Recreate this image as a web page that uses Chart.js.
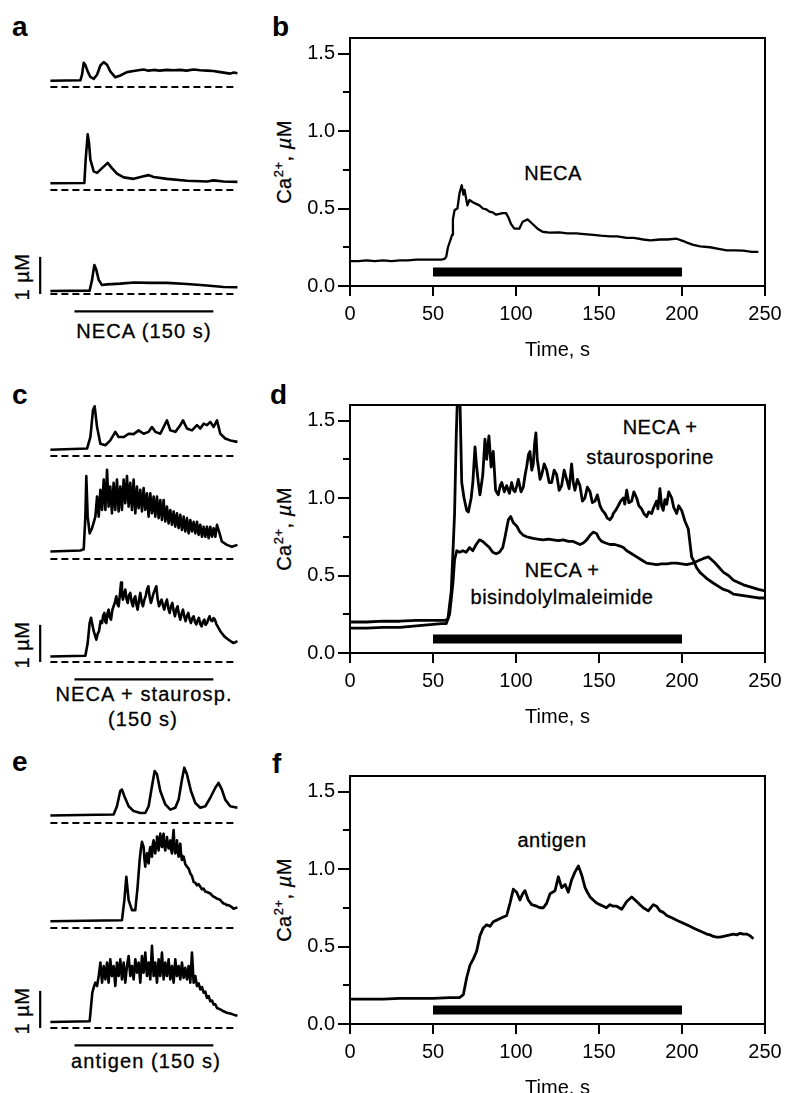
<!DOCTYPE html>
<html>
<head>
<meta charset="utf-8">
<script src="https://cdn.jsdelivr.net/npm/chart.js@4.4.1/dist/chart.umd.min.js"></script>
<style>
html, body { margin: 0; padding: 0; background: #fff; width: 805px; height: 1093px; overflow: hidden; position: relative; }
canvas { position: absolute; }
.t { position: absolute; font-family: "Liberation Sans", Arial, sans-serif; font-size: 20px; letter-spacing: 0.5px; color: #000; white-space: nowrap; line-height: 1; transform: translate(-50%, -50%); -webkit-text-stroke: 0.3px #000; }
.w { letter-spacing: 1.1px; }
.rot { transform: translate(-50%, -50%) rotate(-90deg); }
.p { position: absolute; font-family: "Liberation Sans", Arial, sans-serif; font-weight: bold; font-size: 28px; line-height: 1; }
sup { font-size: 13px; line-height: 0; vertical-align: 8px; }
</style>
</head>
<body>

<div class="p" style="left:12px;top:13px">a</div>
<div class="p" style="left:272px;top:13px">b</div>
<div class="p" style="left:12px;top:381px">c</div>
<div class="p" style="left:270px;top:381px">d</div>
<div class="p" style="left:12px;top:748px">e</div>
<div class="p" style="left:272px;top:750px">f</div>

<div class="t w" style="left:144px;top:331px">NECA (150 s)</div>
<div class="t w" style="left:144px;top:694px">NECA + staurosp.</div>
<div class="t w" style="left:143px;top:719px">(150 s)</div>
<div class="t w" style="left:146px;top:1061px">antigen (150 s)</div>

<div class="t rot" style="left:22px;top:277px">1 µM</div>
<div class="t rot" style="left:22px;top:645px">1 µM</div>
<div class="t rot" style="left:22px;top:1011px">1 µM</div>

<div class="t rot" style="left:284px;top:162px">Ca<sup>2+</sup>, <i>µ</i>M</div>
<div class="t rot" style="left:284px;top:529px">Ca<sup>2+</sup>, <i>µ</i>M</div>
<div class="t rot" style="left:284px;top:900px">Ca<sup>2+</sup>, <i>µ</i>M</div>

<div class="t" style="left:553px;top:173px">NECA</div>
<div class="t" style="left:660px;top:427px">NECA +</div>
<div class="t" style="left:650px;top:457px">staurosporine</div>
<div class="t" style="left:562px;top:570px">NECA +</div>
<div class="t" style="left:562px;top:597px">bisindolylmaleimide</div>
<div class="t" style="left:552px;top:840px">antigen</div>

<script>
// axes
const timeTicks = [0, 50, 100, 150, 200, 250];
const caTicks = [0, 0.5, 1.0, 1.5];
const caMinor = [0.25, 0.75, 1.25];
const stimulus = [50, 200];      // drug / antigen application, s
const stimLeft = [26, 176];      // same 150 s bar under the single-cell traces
const traceSpan = [0, 202];      // zero line under each single-cell trace
const scaleBar = [0, 1];         // 1 uM

// b: NECA, mean Ca2+ (uM) vs time (s)
const necaB = [[0,0.16],[5,0.16],[10,0.165],[15,0.16],[20,0.165],[25,0.16],[30,0.165],[35,0.165],[40,0.17],[45,0.17],[50,0.17],[55,0.17],[57,0.175],[58,0.19],[59,0.25],[60.6,0.30],[61.5,0.33],[62,0.43],[63,0.49],[64.7,0.50],[66,0.60],[67.3,0.65],[68.3,0.59],[69,0.62],[70.7,0.52],[72,0.555],[74,0.54],[76,0.53],[78,0.52],[80,0.50],[82,0.495],[84,0.48],[86,0.475],[88,0.46],[90,0.465],[92,0.47],[94,0.47],[95.5,0.44],[97,0.40],[99,0.37],[102,0.37],[104,0.415],[107,0.43],[110,0.40],[113,0.37],[116,0.35],[120,0.345],[126,0.346],[131,0.34],[136.5,0.34],[141,0.335],[146.6,0.33],[151,0.325],[156.6,0.32],[161,0.32],[166.7,0.31],[171,0.31],[176.7,0.30],[181,0.295],[186.7,0.30],[191,0.30],[196.8,0.305],[200.8,0.29],[203,0.28],[206.8,0.265],[211,0.255],[216.9,0.25],[222,0.24],[227,0.23],[232,0.23],[237,0.228],[242,0.22],[246,0.22]];

// d: NECA + staurosporine / NECA + bisindolylmaleimide
const stauroD = [[0,0.20],[10,0.20],[20,0.205],[30,0.205],[40,0.21],[50,0.21],[55,0.21],[57,0.21],[59,0.22],[61,0.40],[63,0.90],[64,1.40],[65,1.75],[66,1.75],[67.3,1.10],[68.7,1.00],[70.3,0.92],[71.3,0.91],[73,1.00],[74,1.10],[75.3,1.33],[76.3,1.20],[77.3,1.10],[78.3,1.02],[80,1.15],[81.3,1.38],[82.3,1.25],[83.7,1.40],[85,1.20],[86.3,1.30],[87.7,1.05],[89.3,1.02],[90.5,1.08],[91.4,1.10],[93,1.04],[94.4,1.08],[96,1.03],[97.4,1.10],[98.5,1.05],[99.4,1.04],[100.5,1.08],[101.4,1.12],[103,1.04],[104.4,1.07],[105.5,1.15],[106.4,1.20],[107.5,1.28],[108.4,1.30],[109.5,1.18],[110.4,1.22],[111.2,1.35],[112,1.42],[112.8,1.25],[113.5,1.20],[114.5,1.12],[115.5,1.15],[117,1.22],[118.5,1.18],[120,1.10],[121.5,1.10],[123,1.18],[124.5,1.15],[126,1.05],[127.5,1.08],[129,1.18],[130.5,1.12],[132,1.06],[133.5,1.22],[134.5,1.10],[135.5,1.05],[137,1.12],[138.5,1.08],[140,0.98],[141.5,1.00],[143,1.07],[144.6,1.04],[146,0.97],[147.6,0.98],[149,1.02],[150.6,0.95],[152,0.92],[153.6,0.90],[155,0.87],[156.6,0.86],[158,0.88],[158.6,0.90],[160,0.92],[161.6,0.95],[163,0.98],[164.7,1.00],[165.5,0.96],[166.7,1.05],[168,0.97],[169.7,0.98],[171,1.04],[172.7,1.00],[174,0.95],[175.7,0.93],[177,0.90],[178.7,0.88],[180,0.91],[181.7,0.90],[183,0.94],[184.7,0.98],[185.5,0.93],[186.7,1.06],[187.7,0.95],[188.7,0.92],[189.7,0.99],[190.8,0.96],[192,1.04],[193.8,1.00],[195,0.94],[196.8,0.90],[198,0.95],[199.8,0.92],[201.8,0.85],[203.8,0.80],[205.8,0.62],[206.8,0.60],[208.8,0.55],[210.8,0.52],[212.9,0.50],[215,0.48],[219,0.45],[222,0.43],[225,0.41],[228,0.40],[231,0.38],[234,0.375],[237,0.37],[240,0.365],[243,0.36],[246,0.355],[250,0.355]];
const bisD = [[0,0.16],[10,0.16],[20,0.165],[30,0.165],[40,0.175],[45,0.18],[50,0.185],[55,0.19],[58,0.19],[60,0.25],[62,0.45],[63,0.60],[64.3,0.66],[66,0.65],[68,0.66],[70,0.65],[72,0.68],[74,0.66],[76,0.70],[78,0.73],[80,0.72],[82,0.70],[84,0.68],[86,0.65],[88,0.64],[90,0.65],[92,0.68],[93.4,0.75],[95.4,0.86],[96.8,0.88],[98.4,0.84],[100.4,0.82],[102.4,0.78],[104.4,0.76],[106.4,0.75],[108.4,0.745],[110.4,0.74],[113,0.735],[116.5,0.73],[119.5,0.735],[122.5,0.73],[125.5,0.725],[128.5,0.73],[131.5,0.72],[134.5,0.72],[136.5,0.71],[138.5,0.70],[140.5,0.71],[142.6,0.73],[144.6,0.76],[146.6,0.78],[148.6,0.77],[150,0.74],[151.6,0.72],[154,0.71],[156.6,0.70],[159.5,0.70],[162.7,0.69],[164.7,0.68],[166.7,0.66],[169.7,0.64],[172.7,0.62],[175.7,0.60],[178.7,0.58],[181.7,0.575],[184.7,0.57],[187.7,0.575],[190.8,0.575],[193.8,0.58],[196.8,0.58],[199.8,0.575],[202.8,0.57],[206.8,0.58],[210.8,0.60],[213,0.61],[215.9,0.62],[218,0.60],[220,0.58],[222.5,0.55],[225,0.52],[228,0.50],[231,0.47],[234,0.455],[237,0.44],[240,0.43],[243,0.42],[246,0.41],[250,0.40]];

// f: antigen
const antigenF = [[0,0.16],[10,0.16],[20,0.16],[30,0.165],[40,0.165],[50,0.165],[60,0.17],[66,0.17],[68.3,0.19],[70.3,0.30],[72.3,0.38],[74.3,0.42],[76.3,0.47],[78.3,0.57],[80.3,0.62],[82.3,0.64],[84.3,0.63],[86.3,0.66],[88.4,0.67],[90.4,0.68],[92.4,0.69],[94.4,0.70],[96.4,0.78],[98.4,0.87],[100.4,0.85],[102.4,0.80],[104,0.84],[105.4,0.86],[107.4,0.80],[109.4,0.77],[112.4,0.76],[114.5,0.75],[116.5,0.75],[118.5,0.78],[120.5,0.84],[122,0.85],[123.5,0.86],[125.5,0.95],[127.5,0.88],[129.6,0.90],[131.5,0.85],[133.5,0.93],[135.5,0.98],[137.6,1.02],[139.6,0.96],[141.6,0.88],[143,0.85],[144.6,0.82],[146.5,0.80],[148.6,0.78],[150.5,0.77],[152.6,0.76],[154.5,0.75],[156.6,0.77],[158.5,0.76],[160.6,0.76],[163.7,0.74],[166.7,0.79],[169.7,0.82],[172.7,0.79],[174.7,0.77],[176.7,0.75],[179.7,0.73],[182.7,0.77],[184.7,0.76],[186.7,0.73],[188.8,0.72],[190.8,0.70],[192.8,0.69],[194.8,0.68],[196.8,0.67],[198.8,0.66],[200.8,0.65],[202.8,0.64],[204.8,0.63],[206.8,0.62],[208.8,0.61],[210.8,0.60],[212.9,0.59],[214.9,0.58],[216.9,0.575],[218.9,0.565],[220.9,0.56],[222.9,0.56],[225,0.565],[227,0.57],[229,0.575],[231,0.58],[233,0.575],[235,0.585],[237,0.58],[239,0.58],[241,0.57],[243,0.55]];

// a: single cells, NECA
const necaA1 = [[0,0.17],[32.4,0.18],[34.2,0.33],[36,0.65],[37.8,0.59],[40.3,0.42],[43.2,0.27],[46.8,0.22],[50.4,0.33],[54,0.58],[57.6,0.67],[61.2,0.60],[64.7,0.42],[70.1,0.26],[75.5,0.31],[82.7,0.40],[89.9,0.43],[95,0.45],[100.7,0.47],[106,0.44],[111.5,0.46],[118,0.44],[126,0.46],[133,0.45],[140,0.46],[147,0.44],[154.7,0.47],[162,0.45],[169,0.44],[176,0.43],[183.5,0.40],[189,0.38],[194,0.36],[198,0.39],[202,0.37]];
const necaA2 = [[0,0.18],[36.7,0.19],[38.1,0.82],[40.3,1.50],[41.7,1.27],[43.2,0.82],[46.8,0.50],[50.4,0.46],[55.8,0.59],[61.9,0.73],[66.5,0.59],[71.9,0.44],[79.1,0.34],[89.9,0.30],[100.7,0.37],[106.1,0.40],[111.5,0.35],[125.9,0.30],[147.5,0.25],[169.1,0.23],[176.3,0.26],[187,0.23],[202,0.22]];
const necaA3 = [[0,0.08],[42.4,0.09],[45,0.38],[47.5,0.78],[49.6,0.65],[52.2,0.38],[55.8,0.24],[61.2,0.26],[75.5,0.28],[89.9,0.31],[107.9,0.30],[125.9,0.30],[147.5,0.27],[169.1,0.23],[187,0.19],[202,0.18]];

// c: single cells, NECA + staurosporine
const stauroC1 = [[0,0.17],[39.6,0.20],[43.2,0.51],[46,1.23],[47.8,1.34],[50.4,0.78],[54,0.33],[59.4,0.29],[64.7,0.42],[70.1,0.65],[73.7,0.51],[79.1,0.51],[84.5,0.60],[89.9,0.59],[95.3,0.69],[100.7,0.60],[106.1,0.65],[109.7,0.78],[113.3,0.65],[118.7,0.60],[122.3,0.78],[125.9,0.96],[129.5,0.69],[134.9,0.65],[140.3,0.83],[143.2,0.96],[147.5,0.74],[152.9,0.69],[158.3,0.83],[161.9,0.74],[165.5,0.87],[169.1,0.83],[172.7,0.92],[176.3,0.78],[179.9,0.96],[183.5,0.60],[188.8,0.47],[194.2,0.42],[202,0.38]];
const stauroC2 = [[0,0.20],[32.4,0.23],[36,0.26],[37.8,1.14],[38.8,2.23],[40.3,1.14],[42.4,0.69],[45,0.83],[48.6,1.14],[50.4,1.68],[52.2,1.14],[54,1.86],[55.8,1.32],[57.6,2.14],[59.4,1.32],[61.2,2.40],[62.9,1.41],[64.7,1.95],[66.5,1.23],[68.3,2.05],[70.1,1.32],[71.9,2.14],[73.7,1.28],[75.5,1.95],[77.3,1.32],[79.1,2.14],[80.9,1.50],[82.7,2.23],[84.5,1.41],[86.3,2.05],[88.1,1.32],[89.9,2.14],[91.7,1.23],[93.5,1.95],[95.3,1.37],[97.1,1.86],[98.9,1.28],[100.7,1.91],[102.5,1.32],[104.3,1.77],[106.1,1.14],[107.9,1.77],[109.7,1.23],[111.5,1.68],[113.3,1.14],[115.1,1.68],[116.9,1.10],[118.7,1.59],[120.5,1.05],[122.3,1.59],[124.1,1.01],[125.9,1.41],[127.7,0.96],[129.5,1.32],[131.3,0.92],[133.1,1.28],[134.9,0.87],[136.7,1.23],[138.5,0.83],[140.3,1.19],[142.1,0.78],[143.9,1.14],[145.7,0.74],[147.5,1.10],[149.3,0.69],[151.1,1.05],[152.9,0.74],[154.7,1.00],[156.5,0.69],[158.3,1.00],[160.1,0.65],[161.9,0.92],[163.7,0.60],[165.5,0.87],[167.3,0.60],[169.1,0.87],[170.9,0.56],[172.7,0.87],[174.5,0.60],[176.3,0.83],[178.1,0.60],[179.9,0.92],[182.7,0.69],[185.2,0.47],[190.6,0.38],[196,0.33],[202,0.38]];
const stauroC3 = [[0,0.15],[37.8,0.17],[40.3,0.51],[42.4,1.05],[43.9,1.19],[46.8,0.83],[49.6,0.60],[51,0.75],[52.5,0.83],[54.2,1.10],[55.8,1.05],[57,1.25],[58.3,1.32],[59.4,1.08],[60.4,1.05],[61.6,1.30],[62.9,1.41],[64.2,1.20],[65.5,1.14],[66.9,1.40],[68.3,1.50],[69.8,1.62],[71.2,1.77],[72.5,1.55],[73.7,1.50],[75,1.80],[76.3,2.14],[77.3,1.80],[78.4,1.68],[79.6,1.85],[80.9,1.95],[82.2,1.70],[83.5,1.59],[84.9,1.80],[86.3,1.86],[87.7,1.62],[89.2,1.50],[90.4,1.70],[91.7,1.77],[92.9,1.55],[94.2,1.41],[95.6,1.65],[97.1,1.86],[98.6,1.60],[100,1.50],[101.5,1.68],[102.9,1.77],[104.3,1.95],[105.8,2.04],[107.2,1.75],[108.6,1.59],[110,1.72],[111.5,1.86],[113,1.95],[114.4,2.04],[115.8,1.70],[117.3,1.50],[118.7,1.60],[120.1,1.68],[121.6,1.52],[123,1.41],[124.5,1.58],[125.9,1.68],[127.3,1.45],[128.8,1.32],[130.2,1.50],[131.7,1.59],[133.1,1.38],[134.5,1.23],[136,1.42],[137.4,1.50],[138.8,1.28],[140.3,1.14],[141.7,1.30],[143.2,1.41],[144.6,1.22],[146,1.10],[147.5,1.25],[148.9,1.32],[150.4,1.15],[151.8,1.05],[153.2,1.18],[154.7,1.23],[156.1,1.08],[157.5,1.01],[159,1.12],[160.4,1.19],[161.9,1.02],[163.3,0.96],[164.7,1.08],[166.2,1.14],[167.6,1.00],[169.1,1.05],[170.5,1.15],[171.9,1.23],[173.4,1.12],[174.8,1.10],[176.3,1.18],[177.7,1.14],[179.2,1.02],[180.6,0.96],[183.5,0.83],[187.8,0.69],[192.4,0.60],[197.8,0.51],[202,0.56]];

// e: single cells, antigen
const antigenE1 = [[0,0.20],[68.3,0.23],[71.9,0.45],[75.5,0.86],[77.3,0.90],[79.9,0.72],[84.5,0.45],[89.9,0.32],[97.1,0.27],[102.5,0.27],[106.1,0.45],[109.7,0.99],[112.6,1.40],[115.1,1.31],[118.7,0.86],[124.1,0.50],[129.5,0.36],[134.9,0.41],[138.5,0.63],[142.1,1.17],[144.6,1.49],[147.5,1.31],[151.8,0.86],[156.5,0.54],[161.9,0.41],[167.3,0.45],[172.7,0.68],[178.1,0.95],[181.6,1.08],[185.2,0.90],[188.8,0.63],[194.2,0.45],[202,0.41]];
const antigenE2 = [[0,0.18],[77.3,0.21],[79.9,0.75],[82,1.38],[84.5,0.75],[88.1,0.48],[91.7,0.48],[94.2,1.11],[96.4,1.83],[97.6,2.10],[98.9,2.32],[100.7,2.18],[101.6,1.85],[102.5,1.65],[103.4,1.95],[104.3,2.01],[105.2,1.80],[106.1,1.74],[107,2.05],[107.9,2.18],[108.8,1.95],[109.7,1.92],[110.6,2.25],[111.5,2.36],[112.4,2.10],[113.3,2.01],[114.2,2.30],[115.1,2.46],[116,2.20],[116.9,2.09],[117.8,2.40],[118.7,2.54],[119.6,2.25],[120.5,2.18],[121.4,2.42],[122.3,2.54],[123.2,2.20],[124.1,2.09],[125,2.35],[125.9,2.45],[126.8,2.22],[127.7,2.14],[128.6,2.30],[129.5,2.36],[130.4,2.10],[131.3,2.01],[132.2,2.40],[133.1,2.64],[134,2.15],[134.9,2.01],[135.8,2.25],[136.7,2.36],[137.6,2.05],[138.5,1.92],[139.4,2.15],[140.3,2.27],[141.2,1.95],[142.1,1.83],[143.9,1.92],[145.7,1.72],[147.5,1.65],[149.3,1.60],[151.1,1.47],[152.9,1.40],[154.7,1.24],[156.5,1.22],[158.3,1.15],[160.1,1.18],[161.9,1.11],[163.7,1.04],[165.5,1.06],[167.3,0.98],[169.1,0.97],[170.9,0.95],[172.7,0.93],[174.5,0.88],[176.3,0.84],[178.1,0.82],[179.9,0.79],[181.7,0.78],[183.5,0.75],[185.3,0.70],[187,0.66],[188.8,0.65],[190.6,0.61],[192.4,0.62],[194.2,0.59],[196,0.56],[197.8,0.52],[200,0.54],[202,0.55]];
const antigenE3 = [[0,0.16],[42.4,0.18],[45.3,0.95],[46.9,1.10],[48.6,1.22],[50.4,1.13],[52.2,1.40],[54,1.76],[55.8,1.22],[57.6,1.67],[59.4,1.31],[61.2,1.76],[62.9,1.22],[64.7,1.85],[66.5,1.40],[68.3,1.67],[70.1,1.13],[71.9,1.76],[73.7,1.40],[75.5,1.85],[77.3,1.31],[79.1,1.76],[80.9,1.22],[82.7,1.67],[84.5,1.94],[86.3,1.40],[88.1,1.67],[89.9,1.31],[91.7,1.85],[93.5,1.49],[95.3,1.76],[97.1,1.22],[98.9,1.94],[100.7,1.49],[102.5,2.03],[104.3,1.40],[106.1,1.76],[107.9,1.31],[109.7,2.21],[111.5,1.40],[113.3,1.76],[115.1,1.22],[116.9,1.85],[118.7,1.40],[120.5,2.03],[122.3,1.31],[124.1,1.76],[125.9,1.40],[127.7,1.85],[129.5,1.31],[131.3,1.67],[133.1,1.22],[134.9,1.85],[136.7,1.40],[138.5,1.67],[140.3,1.31],[142.1,1.76],[143.9,1.35],[145.7,1.62],[147.5,1.31],[149.3,1.67],[151.1,1.22],[152.9,2.03],[154.7,1.22],[156.5,1.40],[158.3,1.13],[160.1,1.20],[161.9,1.04],[163.7,1.10],[165.5,0.95],[167.3,0.98],[169.1,0.81],[170.9,0.86],[172.7,0.72],[174.5,0.74],[176.3,0.63],[178.1,0.64],[179.9,0.54],[183.5,0.50],[187,0.45],[190.6,0.41],[194.2,0.39],[197.8,0.36],[202,0.33]];

Chart.defaults.font.family = '"Liberation Sans", Arial, sans-serif';
Chart.defaults.color = '#000';

function pts(arr) {
    return arr.map(p => ({ x: p[0], y: p[1] }));
}

function line(data, extra) {
    return Object.assign({
        data: data, borderColor: '#000', borderWidth: 2, pointRadius: 0,
        fill: false, tension: 0, borderJoinStyle: 'round'
    }, extra || {});
}

function addCanvas(left, top, w, h) {
    const c = document.createElement('canvas');
    c.width = w;
    c.height = h;
    c.style.left = left + 'px';
    c.style.top = top + 'px';
    c.style.width = w + 'px';
    c.style.height = h + 'px';
    document.body.appendChild(c);
    return c;
}

// box round the plot + short minor ticks on the Ca axis
const framePlugin = {
    id: 'frame',
    afterDraw(chart) {
        const { ctx, chartArea: a } = chart;
        const y = chart.scales.y;
        ctx.save();
        ctx.strokeStyle = '#000';
        ctx.lineWidth = 2;
        ctx.strokeRect(a.left, a.top, a.right - a.left, a.bottom - a.top);
        ctx.beginPath();
        caMinor.forEach(v => {
            const py = Math.round(y.getPixelForValue(v));
            ctx.moveTo(a.left - 7, py);
            ctx.lineTo(a.left, py);
        });
        ctx.stroke();
        ctx.restore();
    }
};

function mainChart(top, datasets) {
    const H = 370;
    const c = addCanvas(260, top, 545, H);
    new Chart(c, {
        type: 'line',
        data: { datasets: datasets },
        options: {
            responsive: false,
            animation: false,
            events: [],
            layout: { padding: { top: 38, right: 40, left: 0, bottom: 0 } },
            plugins: { legend: { display: false }, tooltip: { enabled: false } },
            scales: {
                x: {
                    type: 'linear', min: 0, max: 250,
                    afterBuildTicks: s => { s.ticks = timeTicks.map(v => ({ value: v })); },
                    afterFit: s => { s.height = H - 286; },
                    grid: { drawOnChartArea: false, color: '#000', lineWidth: 2, tickLength: 10 },
                    border: { display: false },
                    ticks: { font: { size: 20 }, padding: 6, maxRotation: 0, autoSkip: false, color: '#000' },
                    title: { display: true, text: 'Time, s', font: { size: 20 }, color: '#000', padding: { top: 0, bottom: 8 } }
                },
                y: {
                    type: 'linear', min: 0, max: 1.6,
                    afterBuildTicks: s => { s.ticks = caTicks.map(v => ({ value: v })); },
                    afterFit: s => { s.width = 90; },
                    grid: { drawOnChartArea: false, color: '#000', lineWidth: 2, tickLength: 12 },
                    border: { display: false },
                    ticks: { font: { size: 20 }, padding: 3, color: '#000', callback: v => v.toFixed(1) }
                }
            }
        },
        plugins: [framePlugin]
    });
}

function stimBar() {
    return line([{ x: stimulus[0], y: 0.09 }, { x: stimulus[1], y: 0.09 }], { borderWidth: 9, borderCapStyle: 'butt' });
}

mainChart(0, [line(pts(necaB), { borderWidth: 2.3 }), stimBar()]);
mainChart(367, [line(pts(stauroD), { borderWidth: 2.8 }), line(pts(bisD), { borderWidth: 2.8 }), stimBar()]);
mainChart(738, [line(pts(antigenF), { borderWidth: 2.8 }), stimBar()]);

// single-cell traces: 1 uM = 37 px, zero at yZero
function traceChart(yZero, series, bottom) {
    const c = addCanvas(30, yZero - 104, 213, 130);
    const ds = [
        line(pts(series), { borderWidth: 2.6 }),
        line([{ x: traceSpan[0], y: 0 }, { x: traceSpan[1], y: 0 }], { borderWidth: 2, borderDash: [7, 4] })
    ];
    if (bottom) {
        ds.push(line([{ x: stimLeft[0], y: -0.47 }, { x: stimLeft[1], y: -0.47 }], { borderWidth: 2.2, borderCapStyle: 'butt' }));
        ds.push(line([{ x: -11, y: scaleBar[0] }, { x: -11, y: scaleBar[1] }], { borderWidth: 2.2, borderCapStyle: 'butt' }));
    }
    new Chart(c, {
        type: 'line',
        data: { datasets: ds },
        options: {
            responsive: false,
            animation: false,
            events: [],
            layout: { padding: 0 },
            plugins: { legend: { display: false }, tooltip: { enabled: false } },
            scales: {
                x: { type: 'linear', min: -22, max: 208, display: false },
                y: { type: 'linear', min: -0.7, max: 2.8, display: false }
            }
        }
    });
}

traceChart(87.3, necaA1, false);
traceChart(190.3, necaA2, false);
traceChart(294, necaA3, true);
traceChart(455.7, stauroC1, false);
traceChart(559, stauroC2, false);
traceChart(662.3, stauroC3, true);
traceChart(823.3, antigenE1, false);
traceChart(927.7, antigenE2, false);
traceChart(1028.3, antigenE3, true);
</script>
</body>
</html>
